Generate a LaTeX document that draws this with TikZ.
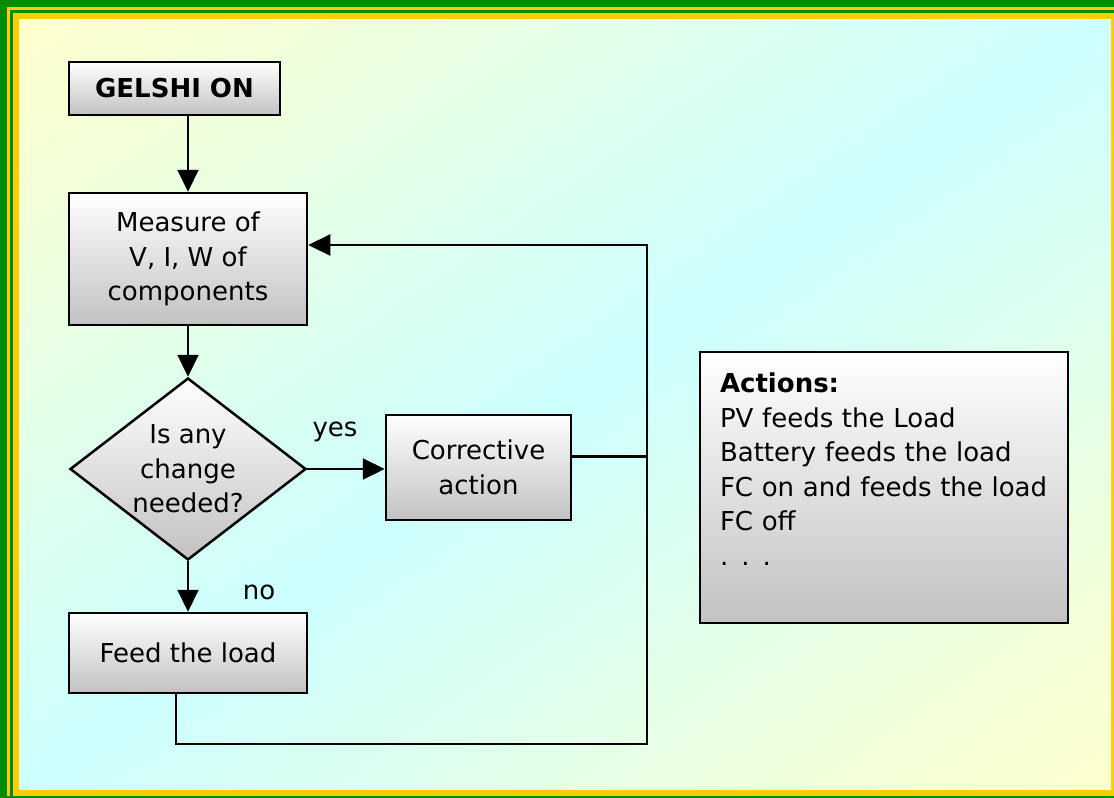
\documentclass[tikz,border=0pt]{standalone}
\usepackage{fontspec}
\setmainfont{DejaVu Sans}
\usetikzlibrary{shapes.geometric,arrows.meta}
\definecolor{frgreen}{RGB}{0,140,0}
\definecolor{fryellow}{RGB}{255,204,0}
\definecolor{bgyellow}{RGB}{255,255,204}
\definecolor{bgcyan}{RGB}{204,255,255}
\begin{document}
\begin{tikzpicture}[x=1pt,y=-1pt,
	txt/.style={font=\fontsize{26}{34.6}\selectfont},
	bold/.style={font=\fontsize{26}{34.6}\selectfont\bfseries},
	box/.style={txt,rectangle,draw,line width=2.5pt,top color=white,bottom color=black!24,align=center,inner sep=0pt},
	ask/.style={box,diamond,aspect=1.3},
	arr/.style={line width=2.2pt,-{Triangle[length=22pt,width=21pt]}},
	wire/.style={line width=2.2pt}]
\useasboundingbox (0,0) rectangle (1114,798);
\fill[frgreen] (0,0) rectangle (1114,798);
\fill[fryellow] (7,7) rectangle (1114,796);
\fill[frgreen] (9.5,9.5) rectangle (1114,796);
\fill[fryellow] (12.5,12.5) rectangle (1114,796);
\begin{scope}
	\clip (19.5,19.5) rectangle (1111,789);
	\shade[transform canvas={rotate around={-54.8:(565.25,404.25)}},left color=bgyellow,right color=bgyellow,middle color=bgcyan] (-64.75,-265.75) rectangle (1195.25,1074.25);
\end{scope}

\node[box,bold,minimum width=211pt,minimum height=53pt] (on) at (174.5,88.5) {GELSHI ON};
\node[box,minimum width=238pt,minimum height=132pt] (meas) at (188,259) {Measure of\\V, I, W of\\components};
\node[ask,minimum width=236pt,minimum height=182pt] (q) at (188,469) {Is any\\change\\needed?};
\node[box,minimum width=185pt,minimum height=105pt] (fix) at (478.5,467.5) {Corrective\\action};
\node[box,minimum width=238pt,minimum height=80pt] (feed) at (188,653) {Feed the load};
\node[box,align=left,text width=328pt,inner xsep=20pt,minimum height=271pt,text height=19pt,text depth=209pt] (act) at (884,487.5)
	{\textbf{Actions:}\\PV feeds the Load\\Battery feeds the load\\FC on and feeds the load\\FC off\\. . .};
\node[txt] (yes) at (335,432) {yes};
\node[txt] (no) at (259,592) {no};

\coordinate (back) at (647,245);
\coordinate (low) at (647,744);
\draw[arr] (on.south -| meas.north) -- (meas.north);
\draw[arr] (meas.south) -- (q.north);
\draw[arr] (q.east) -- (q.east -| fix.west);
\draw[arr] (q.south) -- (feed.north);
\draw[arr] ([yshift=11pt]fix.east) -| (back) -- (back -| meas.east);
\draw[wire] ([xshift=-12pt]feed.south) |- (low) -- (back);
\end{tikzpicture}
\end{document}
